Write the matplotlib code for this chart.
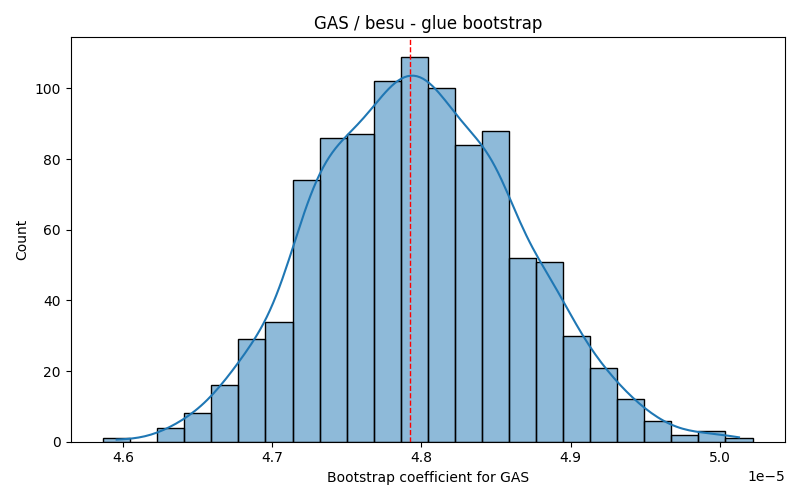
import numpy as np
import matplotlib
matplotlib.use('Agg')
import matplotlib.pyplot as plt
import seaborn as sns

# bootstrap coefficient histogram
bin_lo = 4.5864e-5
bin_hi = 5.0221e-5
counts = [1, 0, 4, 8, 16, 29, 34, 74, 86, 87, 102, 109,
          100, 84, 88, 52, 51, 30, 21, 12, 6, 2, 3, 1]
point_estimate = 4.7923e-5

title = "GAS / besu - glue bootstrap"
xlabel = "Bootstrap coefficient for GAS"


def main():
    edges = np.linspace(bin_lo, bin_hi, len(counts) + 1)
    centers = (edges[:-1] + edges[1:]) / 2
    # rebuild the sample from the bin counts
    sample = np.repeat(centers, counts)

    fig, ax = plt.subplots(figsize=(8, 5), dpi=100)
    sns.histplot(sample, bins=edges, kde=True, edgecolor='black',
                 kde_kws={'bw_adjust': 0.95}, ax=ax)
    ax.axvline(point_estimate, color='red', linestyle='--', linewidth=1)
    ax.set_title(title)
    ax.set_xlabel(xlabel)
    ax.set_ylabel("Count")
    fig.tight_layout()
    fig.savefig("out.png")


if __name__ == '__main__':
    main()
